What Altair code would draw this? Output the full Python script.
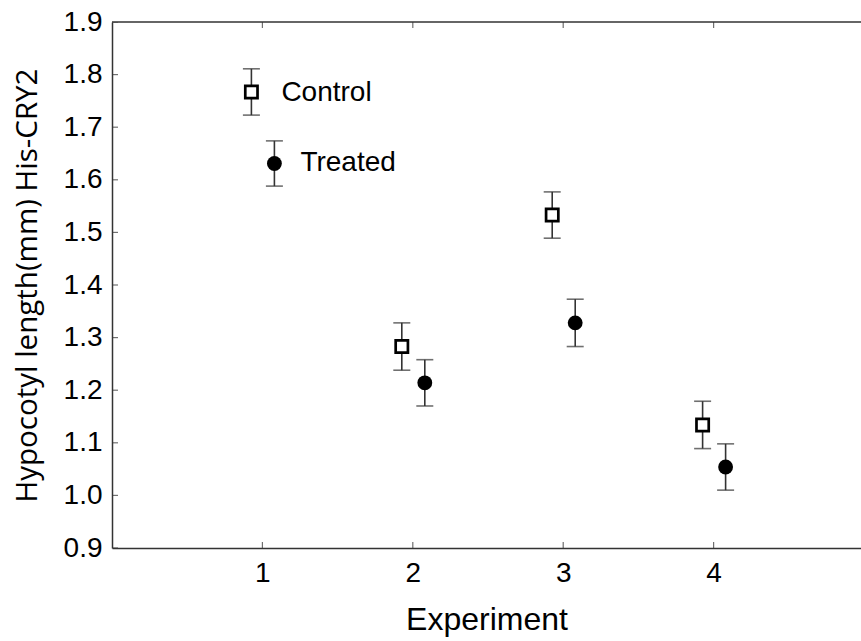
import altair as alt
import pandas as pd

experiments = [1, 2, 3, 4]
control_mean = [1.767, 1.283, 1.533, 1.134]
control_err = [0.044, 0.045, 0.044, 0.045]
treated_mean = [1.631, 1.214, 1.328, 1.054]
treated_err = [0.043, 0.044, 0.045, 0.044]
x_ticks = [1, 2, 3, 4]
y_ticks = [0.9, 1.0, 1.1, 1.2, 1.3, 1.4, 1.5, 1.6, 1.7, 1.8, 1.9]

rows = []
for e, m, s in zip(experiments, control_mean, control_err):
    rows.append({"exp": e, "group": "Control", "mean": m, "err": s})
for e, m, s in zip(experiments, treated_mean, treated_err):
    rows.append({"exp": e, "group": "Treated", "mean": m, "err": s})
df = pd.DataFrame(rows)

FONT = "Liberation Sans"
LINE = "#333333"
xscale = alt.Scale(domain=[0, 4.98], nice=False, zero=False)
yscale = alt.Scale(domain=[0.9, 1.9], nice=False, zero=False)

xaxis = alt.Axis(values=x_ticks, format="d", tickSize=0, labelPadding=11,
                 labelFontSize=28, title="Experiment", titleFontSize=32,
                 titleFont=FONT, titlePadding=17, grid=False)
yaxis = alt.Axis(values=y_ticks, format=".1f", tickSize=0, labelPadding=10,
                 labelFontSize=28, title="Hypocotyl length(mm) His-CRY2",
                 titleFont="Open Sans", titleFontSize=29.5, titlePadding=21, grid=False)

base = alt.Chart(df).transform_calculate(
    lo="datum.mean - datum.err", hi="datum.mean + datum.err"
)

def group_layers(name, dx):
    b = base.transform_filter(alt.datum.group == name)
    xo = alt.value(dx)
    rule = b.mark_rule(color=LINE, strokeWidth=1.6).encode(
        x=alt.X("exp:Q", scale=xscale, axis=xaxis),
        y=alt.Y("lo:Q", scale=yscale, axis=yaxis),
        y2="hi:Q",
        xOffset=xo,
    )
    cap_lo = b.mark_tick(color=LINE, orient="horizontal", size=17, thickness=1.6).encode(
        x="exp:Q", y="lo:Q", xOffset=xo)
    cap_hi = b.mark_tick(color=LINE, orient="horizontal", size=17, thickness=1.6).encode(
        x="exp:Q", y="hi:Q", xOffset=xo)
    if name == "Control":
        pt = b.mark_point(shape="square", filled=True, fill="white", stroke="black",
                          strokeWidth=2.7, size=150, opacity=1).encode(
            x="exp:Q", y="mean:Q", xOffset=xo)
    else:
        pt = b.mark_point(shape="circle", filled=True, color="black", size=220, opacity=1).encode(
            x="exp:Q", y="mean:Q", xOffset=xo)
    return [rule, cap_lo, cap_hi, pt]

layers = group_layers("Control", -11) + group_layers("Treated", 12)

label_c = base.transform_filter((alt.datum.group == "Control") & (alt.datum.exp == 1)).mark_text(
    align="left", baseline="middle", font=FONT, fontSize=28, dx=19, dy=1, color="black"
).encode(x="exp:Q", y="mean:Q", text="group:N")
label_t = base.transform_filter((alt.datum.group == "Treated") & (alt.datum.exp == 1)).mark_text(
    align="left", baseline="middle", font=FONT, fontSize=28, dx=38, dy=0, color="black"
).encode(x="exp:Q", y="mean:Q", text="group:N")

xt = pd.DataFrame({"v": x_ticks})
yt = pd.DataFrame({"v": y_ticks})
tick_bottom = alt.Chart(xt).mark_tick(orient="vertical", size=12, thickness=1.2, color=LINE, clip=True).encode(
    x="v:Q", y=alt.datum(0.9))
tick_top = alt.Chart(xt).mark_tick(orient="vertical", size=12, thickness=1.2, color=LINE, clip=True).encode(
    x="v:Q", y=alt.datum(1.9))
tick_left = alt.Chart(yt).mark_tick(orient="horizontal", size=12, thickness=1.2, color=LINE, clip=True).encode(
    x=alt.datum(0), y="v:Q")
top_line = alt.Chart(pd.DataFrame({"v": [1.9]})).mark_rule(color=LINE, strokeWidth=1.5).encode(
    y="v:Q")

chart = alt.layer(
    top_line, tick_bottom, tick_top, tick_left, *layers, label_c, label_t
).properties(
    width=749, height=526,
    autosize=alt.AutoSizeParams(type="none"),
    padding={"left": 112, "top": 22, "right": 0, "bottom": 93},
    background="white",
).configure_view(stroke=None).configure_axis(
    labelFont=FONT, titleFont=FONT,
    labelColor="black", titleColor="black", titleFontWeight="normal",
    domainColor=LINE, domainWidth=1.5,
)

chart.save("out.html", embed_options={"renderer": "svg", "actions": False})
